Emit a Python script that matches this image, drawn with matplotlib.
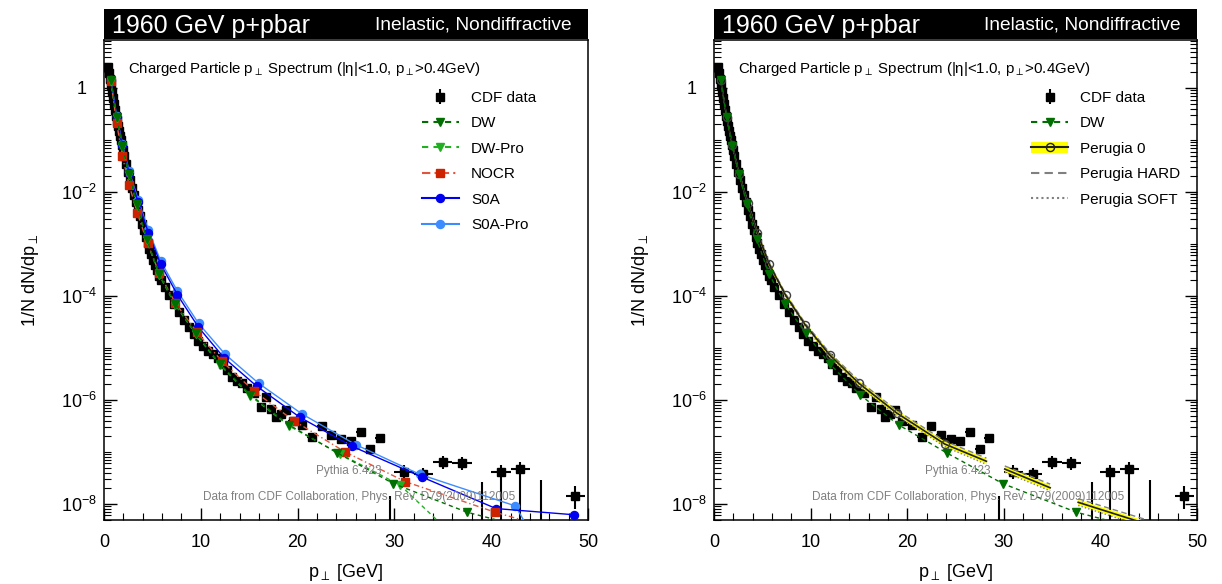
import numpy as np
import matplotlib
matplotlib.use('Agg')
import matplotlib.pyplot as plt
from matplotlib.lines import Line2D
from matplotlib.patches import Patch
from matplotlib.ticker import FixedLocator, MultipleLocator, NullFormatter

plt.rcParams['font.family'] = ['Liberation Sans', 'DejaVu Sans']
plt.rcParams['mathtext.fontset'] = 'custom'
plt.rcParams['mathtext.rm'] = 'Liberation Sans'
plt.rcParams['mathtext.it'] = 'Liberation Sans:italic'
plt.rcParams['mathtext.bf'] = 'Liberation Sans:bold'
plt.rcParams['mathtext.sf'] = 'Liberation Sans'

# ---------------- data (log10 of 1/N dN/dpT) ----------------
cdf_pt = [0.45, 0.55, 0.65, 0.75, 0.85, 0.95, 1.05, 1.15, 1.25, 1.35, 1.45, 1.55, 1.65, 1.75, 1.85, 1.95,
          2.1, 2.3, 2.5, 2.7, 2.9, 3.1, 3.3, 3.5, 3.7, 3.9, 4.1, 4.3, 4.5, 4.7, 4.9,
          5.1, 5.3, 5.5, 5.7, 5.9, 6.25, 6.75, 7.25, 7.75, 8.25, 8.75, 9.25, 9.75,
          10.25, 10.75, 11.25, 11.75, 12.25, 12.75, 13.25, 13.75, 14.25, 14.75,
          15.5, 16.25, 16.75, 17.25, 17.75, 18.25, 18.75, 19.5,
          20.5, 21.5, 22.5, 23.5, 24.5, 25.5, 26.5, 27.5, 28.5,
          31.0, 33.0, 35.0, 37.0, 41.0, 43.0, 48.7]
cdf_log = [0.41, 0.29, 0.17, 0.05, -0.07, -0.19, -0.31, -0.42, -0.54, -0.64, -0.73, -0.83, -0.92, -1.01, -1.10, -1.19,
           -1.31, -1.46, -1.62, -1.77, -1.92, -2.06, -2.20, -2.34, -2.47, -2.61, -2.74, -2.87, -2.99, -3.09, -3.20,
           -3.30, -3.41, -3.51, -3.61, -3.69, -3.82, -3.99, -4.15, -4.30, -4.46, -4.60, -4.73, -4.87,
           -4.97, -5.05, -5.12, -5.20, -5.30, -5.42, -5.55, -5.63, -5.68, -5.77,
           -5.87, -6.14, -5.95, -6.18, -6.32, -6.27, -6.20, -6.40,
           -6.48, -6.72, -6.51, -6.68, -6.76, -6.79, -6.62, -6.95, -6.73,
           -7.38, -7.43, -7.19, -7.21, -7.38, -7.33, -7.85]
cdf_dpt = [0.05] * 16 + [0.1] * 20 + [0.25] * 18 + [0.375, 0.25, 0.25, 0.25, 0.25, 0.25, 0.25, 0.5] + \
          [0.5] * 9 + [1.0] * 7
cdf_err_dn = [0.02] * 44 + [0.05] * 18 + [0.09] * 9 + [0.14, 0.14, 0.13, 0.13, 9.0, 9.0, 0.25]
cdf_err_up = [0.02] * 44 + [0.05] * 18 + [0.08] * 9 + [0.12, 0.12, 0.11, 0.11, 0.13, 0.13, 0.2]
# bins whose central value is below the plotted range (only the upper error is visible)
cdf_low_pt = [29.5, 39.1, 45.1]
cdf_low_up = [-7.84, -7.57, -7.55]

dw_pt = [0.7, 1.3, 1.9, 2.6, 3.4, 4.4, 5.7, 7.35, 9.5, 12.0, 15.1, 19.1, 24.1, 29.9, 37.5, 47.0]
dw_log = [0.15, -0.56, -1.12, -1.66, -2.24, -2.90, -3.58, -4.15, -4.72, -5.31, -5.90, -6.48, -7.02, -7.61, -8.16, -8.62]

dwpro_pt = [0.7, 1.3, 1.9, 2.6, 3.4, 4.4, 5.7, 7.35, 9.5, 12.0, 15.1, 19.1, 24.4, 30.6, 37.5]
dwpro_log = [0.14, -0.57, -1.13, -1.68, -2.26, -2.92, -3.60, -4.17, -4.74, -5.33, -5.92, -6.50, -7.04, -7.64, -8.86]

nocr_pt = [0.7, 1.3, 1.9, 2.6, 3.45, 4.5, 5.7, 7.35, 9.6, 12.2, 15.5, 19.6, 24.9, 31.1, 40.4, 48.6]
nocr_log = [0.14, -0.67, -1.31, -1.87, -2.41, -2.99, -3.56, -4.13, -4.70, -5.26, -5.83, -6.40, -7.00, -7.57, -8.16, -8.60]

s0a_pt = [0.7, 1.3, 1.9, 2.6, 3.54, 4.58, 5.86, 7.59, 9.75, 12.4, 15.8, 20.2, 25.6, 32.8, 40.5, 48.6]
s0a_log = [0.15, -0.55, -1.10, -1.64, -2.20, -2.78, -3.39, -3.98, -4.60, -5.19, -5.74, -6.33, -6.89, -7.48, -8.09, -8.21]

s0apro_pt = [0.7, 1.3, 1.9, 2.6, 3.54, 4.58, 5.86, 7.59, 9.77, 12.5, 15.97, 20.45, 26.0, 32.6, 42.5, 48.6]
s0apro_log = [0.16, -0.53, -1.07, -1.60, -2.16, -2.73, -3.33, -3.91, -4.53, -5.12, -5.68, -6.27, -6.86, -7.43, -8.04, -10.0]

nan = float('nan')
p0_pt = [0.7, 1.3, 1.9, 2.6, 3.5, 4.48, 5.69, 7.42, 9.42, 12.0, 15.0, 18.9, 23.9, 28.2, nan, 30.1, 34.8, nan, 37.7, 44.5]
p0_log = [0.15, -0.55, -1.10, -1.65, -2.22, -2.78, -3.38, -3.99, -4.55, -5.14, -5.68, -6.25, -6.85, -7.18, nan,
          -7.33, -7.69, nan, -7.97, -8.37]
p0_band = 0.05
phard_log = [0.16, -0.54, -1.09, -1.63, -2.20, -2.76, -3.36, -3.96, -4.52, -5.10, -5.63, -6.20, -6.79, -7.12, nan,
             -7.27, -7.62, nan, -7.90, -8.29]
psoft_log = [0.14, -0.56, -1.12, -1.67, -2.24, -2.81, -3.41, -4.02, -4.59, -5.18, -5.73, -6.30, -6.90, -7.24, nan,
             -7.39, -7.75, nan, -8.03, -8.44]

ytick_vals = [1, 1e-2, 1e-4, 1e-6, 1e-8]
ytick_labels = ['1  ', r'$10^{-2}$', r'$10^{-4}$', r'$10^{-6}$', r'$10^{-8}$']
xtick_vals = [0, 10, 20, 30, 40, 50]

# ---------------- figure ----------------
W, H = 1222, 584
fig = plt.figure(figsize=(W / 100, H / 100), dpi=100)

def px_axes(x0, x1, y0, y1):
    return [x0 / W, 1 - y1 / H, (x1 - x0) / W, (y1 - y0) / H]

GREY = '#808080'
C_DW = '#006e00'
C_DWPRO = '#22b022'
C_NOCR_L = '#e0553f'
C_NOCR_M = '#cc2200'
C_S0A = '#0000f0'
C_S0APRO = '#3d8cff'
MS_TRI = 6.2
MS_SQ = 5.5
MS_CIR = 5.8


def to_val(lst):
    return np.power(10.0, np.array(lst, dtype=float))


def setup_axes(ax, right_ticks):
    ax.set_yscale('log')
    ax.set_xlim(0, 50)
    ax.set_ylim(10 ** -8.31, 10 ** 0.923)
    ax.yaxis.set_major_locator(FixedLocator(ytick_vals))
    ax.set_yticklabels(ytick_labels)
    minors = [m * 10.0 ** k for k in range(-9, 1) for m in range(1, 10)]
    minors = [v for v in minors if v not in ytick_vals]
    ax.yaxis.set_minor_locator(FixedLocator(minors))
    ax.yaxis.set_minor_formatter(NullFormatter())
    ax.xaxis.set_major_locator(FixedLocator(xtick_vals))
    ax.xaxis.set_minor_locator(MultipleLocator(2))
    ax.tick_params(which='both', direction='in', top=False, right=right_ticks, labelsize=13)
    ax.tick_params(which='major', length=9, width=1.0)
    ax.tick_params(which='minor', length=5, width=0.8)
    ax.tick_params(axis='x', which='major', pad=10)
    ax.tick_params(axis='y', which='major', pad=5)
    for s in ax.spines.values():
        s.set_linewidth(1.1)
    ax.set_xlabel(r'p$_{\perp}$ [GeV]', fontsize=13, labelpad=8)
    ax.set_ylabel(r'1/N dN/dp$_{\perp}$', fontsize=13, labelpad=14)
    ax.text(0.05, 0.94, r'Charged Particle p$_{\perp}$ Spectrum (|η|<1.0, p$_{\perp}$>0.4GeV)',
            transform=ax.transAxes, fontsize=10.8, ha='left', va='center')
    ax.text(0.573, 0.102, 'Pythia 6.423', transform=ax.transAxes, fontsize=8.5,
            color=GREY, ha='right', va='center', zorder=20)
    ax.text(0.849, 0.048, 'Data from CDF Collaboration, Phys. Rev. D79(2009)112005',
            transform=ax.transAxes, fontsize=8.5, color=GREY, ha='right', va='center', zorder=20)


def draw_data(ax):
    y = to_val(cdf_log)
    lo = y - np.power(10.0, np.array(cdf_log) - np.array(cdf_err_dn))
    hi = np.power(10.0, np.array(cdf_log) + np.array(cdf_err_up)) - y
    ax.errorbar(cdf_pt, y, xerr=cdf_dpt, yerr=[lo, hi], fmt='s', color='black', ms=6,
                elinewidth=1.5, capsize=0, zorder=3)
    ax.vlines(cdf_low_pt, 1e-12, to_val(cdf_low_up), color='black', lw=1.5, zorder=3)


def title_bar(x0, x1):
    tb = fig.add_axes(px_axes(x0, x1, 9, 39))
    tb.set_facecolor('black')
    tb.set_xticks([]); tb.set_yticks([])
    for s in tb.spines.values():
        s.set_visible(False)
    tb.text(0.017, 0.45, '1960 GeV p+pbar', color='white', fontsize=18, ha='left', va='center',
            transform=tb.transAxes)
    tb.text(0.967, 0.45, 'Inelastic, Nondiffractive', color='white', fontsize=13.8, ha='right',
            va='center', transform=tb.transAxes)


def data_proxy(ax):
    return ax.errorbar([], [], yerr=[], fmt='s', color='black', ms=6, elinewidth=1.5, capsize=0)


LEG_KW = dict(loc='upper left', bbox_to_anchor=(0.657, 0.894), frameon=False, fontsize=11,
              handlelength=2.4, handletextpad=0.8, labelspacing=0.75, borderpad=0, borderaxespad=0)

# ---------------- left panel ----------------
axL = fig.add_axes(px_axes(104, 588, 40, 520))
setup_axes(axL, right_ticks=False)
draw_data(axL)
axL.plot(s0apro_pt, to_val(s0apro_log), '-', color=C_S0APRO, lw=1.0, marker='o', ms=MS_CIR, zorder=4)
axL.plot(s0a_pt, to_val(s0a_log), '-', color=C_S0A, lw=1.0, marker='o', ms=MS_CIR, zorder=5)
axL.plot(nocr_pt, to_val(nocr_log), linestyle=(0, (4, 2, 1, 2)), color=C_NOCR_L, lw=1.0,
         marker='s', ms=MS_SQ, mfc=C_NOCR_M, mec=C_NOCR_M, zorder=6)
axL.plot(dwpro_pt, to_val(dwpro_log), linestyle=(0, (3, 2.5)), color=C_DWPRO, lw=1.0,
         marker='v', ms=MS_TRI, zorder=7)
axL.plot(dw_pt, to_val(dw_log), linestyle=(0, (3, 2.5)), color=C_DW, lw=1.0,
         marker='v', ms=MS_TRI, zorder=8)

hL = [data_proxy(axL),
      Line2D([], [], color=C_DW, ls=(0, (3, 2.5)), marker='v', ms=MS_TRI),
      Line2D([], [], color=C_DWPRO, ls=(0, (3, 2.5)), marker='v', ms=MS_TRI),
      Line2D([], [], color=C_NOCR_L, ls=(0, (4, 2, 1, 2)), marker='s', ms=MS_SQ, mfc=C_NOCR_M, mec=C_NOCR_M),
      Line2D([], [], color=C_S0A, ls='-', marker='o', ms=MS_CIR),
      Line2D([], [], color=C_S0APRO, ls='-', marker='o', ms=MS_CIR)]
lL = ['CDF data', 'DW', 'DW-Pro', 'NOCR', 'S0A', 'S0A-Pro']
axL.legend(hL, lL, **LEG_KW)
title_bar(104, 588)

# ---------------- right panel ----------------
axR = fig.add_axes(px_axes(714, 1197, 40, 520))
setup_axes(axR, right_ticks=True)
draw_data(axR)
p0x = np.array(p0_pt, dtype=float)
p0y = np.array(p0_log, dtype=float)
axR.fill_between(p0x, 10 ** (p0y - p0_band), 10 ** (p0y + p0_band), color='#ffff00', lw=0, zorder=4)
axR.plot(p0x, to_val(psoft_log), ls=(0, (1, 1.5)), color=GREY, lw=1.0, zorder=5)
axR.plot(p0x, to_val(phard_log), ls=(0, (4, 2.5)), color=GREY, lw=1.0, zorder=5)
axR.plot(p0x, to_val(p0_log), '-', color='#202020', lw=1.2, marker='o', ms=MS_CIR, mfc='none',
         mec='#404040', markevery=list(range(13)), zorder=6)
axR.plot(dw_pt, to_val(dw_log), linestyle=(0, (3, 2.5)), color=C_DW, lw=1.0,
         marker='v', ms=MS_TRI, zorder=8)

hR = [data_proxy(axR),
      Line2D([], [], color=C_DW, ls=(0, (3, 2.5)), marker='v', ms=MS_TRI),
      (Patch(facecolor='#ffff00', edgecolor='none'),
       Line2D([], [], color='#202020', ls='-', marker='o', ms=MS_CIR, mfc='none')),
      Line2D([], [], color=GREY, ls=(0, (4, 2.5))),
      Line2D([], [], color=GREY, ls=(0, (1, 1.5)))]
lR = ['CDF data', 'DW', 'Perugia 0', 'Perugia HARD', 'Perugia SOFT']
axR.legend(hR, lR, **LEG_KW)
title_bar(714, 1197)

fig.savefig('out.png', dpi=100)
